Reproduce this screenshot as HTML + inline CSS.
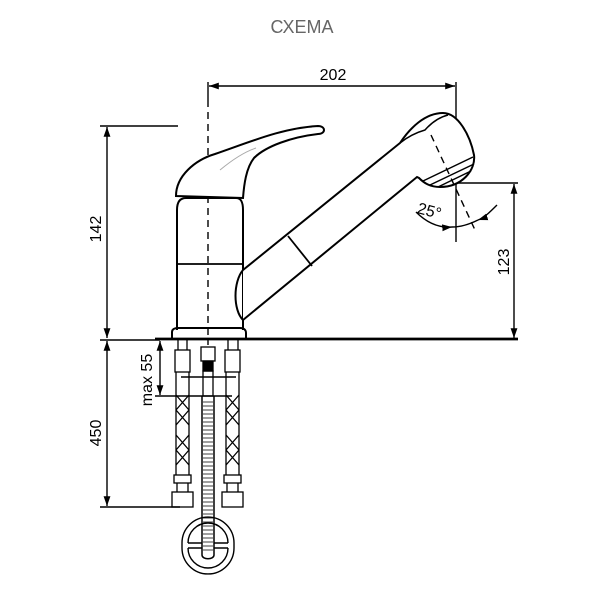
<!DOCTYPE html>
<html><head><meta charset="utf-8"><style>html,body{margin:0;padding:0;background:#fff;}svg{display:block}</style></head>
<body>
<svg width="600" height="600" viewBox="0 0 600 600" xmlns="http://www.w3.org/2000/svg" font-family="Liberation Sans, sans-serif">
<defs>
<marker id="a" viewBox="0 0 10 10" refX="10" refY="5" markerWidth="7" markerHeight="7" orient="auto-start-reverse"><path d="M0,1.5 L10,5 L0,8.5 Z" fill="#000"/></marker>
</defs>
<text x="302" y="33" text-anchor="middle" font-size="18" fill="#666">СХЕМА</text>
<g stroke="#000" fill="none" stroke-width="1.4">
<line x1="209" y1="86" x2="455" y2="86" marker-start="url(#a)" marker-end="url(#a)"/>
<line x1="456" y1="82" x2="456" y2="242"/>
<line x1="208" y1="82" x2="208" y2="100"/>
<line x1="208" y1="100" x2="208" y2="345" stroke-dasharray="7,5"/>
<line x1="100" y1="126" x2="178" y2="126"/>
<line x1="107" y1="127" x2="107" y2="338" marker-start="url(#a)" marker-end="url(#a)"/>
<path d="M176,196 C176,176 195,160 215,154 C250,142 282,128 318,126 C326,126 326,134 318,134 C292,137 266,146 254,158 C246,168 244,185 243,198 Z" fill="#fff" stroke-width="2"/>
<path d="M220,170 C232,160 244,152 256,148" stroke="#aaa" stroke-width="1"/>
<path d="M177,330 L177,210 C177,202 180,198 186,198 L236,198 C241,198 243,202 243,210 L243,330" stroke-width="2"/>
<line x1="177" y1="264" x2="243" y2="264" stroke-width="1.8"/>
<path d="M172,338 L172,332 C172,329 175,328 178,328 L240,328 C244,328 246,330 246,333 L246,338" stroke-width="2"/>
<path d="M243,270 L400,143 C410,128 425,113 443,113 C458,113 470,135 474,155 C476,170 462,187 440,187 C430,187 424,183 419,178 L417,177 L243,320" stroke-width="2" fill="#fff"/>
<path d="M243,270 C233,282 233,310 243,320" stroke-width="2"/>
<line x1="288" y1="236" x2="312" y2="266" stroke-width="1.8"/>
<path d="M400,143 C410,135 418,132 425,130 C432,122 440,117 448,115" stroke-width="1.5"/>
<path d="M423,181 L473,157 M430,185 L474,164 M438,187 L471,171" stroke-width="1.5"/>
<line x1="431" y1="135" x2="475" y2="230" stroke-dasharray="7,5"/>
<path d="M416,212 C428,224 440,228 452,227" marker-end="url(#a)"/>
<path d="M497,205 C490,212 484,218 478,220" marker-end="url(#a)"/>
<path d="M452,227 C462,227 470,224 478,220"/>
<line x1="457" y1="183" x2="518" y2="183"/>
<line x1="514" y1="184" x2="514" y2="338" marker-start="url(#a)" marker-end="url(#a)"/>
<line x1="155" y1="339" x2="518" y2="339" stroke-width="2.8"/>
<line x1="100" y1="340" x2="160" y2="340"/>
<line x1="107" y1="341" x2="107" y2="506" marker-start="url(#a)" marker-end="url(#a)"/>
<line x1="100" y1="507" x2="180" y2="507"/>
<line x1="160" y1="341" x2="160" y2="395" marker-start="url(#a)" marker-end="url(#a)"/>
<line x1="155" y1="396" x2="232" y2="396"/>
<line x1="181" y1="377" x2="236" y2="377"/>
<g stroke-width="1.3">
<path d="M178,340 V350 M187,340 V350 M228,340 V350 M238,340 V350"/>
<rect x="175" y="350" width="15" height="22"/>
<rect x="225" y="350" width="15" height="22"/>
<path d="M176,372 V475 M189,372 V475 M226,372 V475 M239,372 V475"/>
<path d="M176,395 L189,410 M189,395 L176,410 M176,410 L189,425 M189,410 L176,425 M176,435 L189,450 M189,435 L176,450 M176,450 L189,465 M189,450 L176,465"/>
<path d="M226,395 L239,410 M239,395 L226,410 M226,410 L239,425 M239,410 L226,425 M226,435 L239,450 M239,435 L226,450 M226,450 L239,465 M239,450 L226,465"/>
<rect x="174" y="475" width="17" height="8"/><rect x="224" y="475" width="17" height="8"/>
<path d="M177,483 V492 M188,483 V492 M227,483 V492 M238,483 V492"/>
<rect x="172" y="492" width="21" height="15"/><rect x="222" y="492" width="21" height="15"/>
<rect x="201" y="347" width="14" height="14"/>
<rect x="203" y="361" width="10" height="10" fill="#000"/>
<rect x="203" y="371" width="10" height="25"/>
<path d="M202,396 V555 C202,560 214,560 214,555 V396" stroke-width="1.5"/>
</g>
<path d="M203,402 H213 M203,406 H213 M203,410 H213 M203,414 H213 M203,418 H213 M203,422 H213 M203,426 H213 M203,430 H213 M203,434 H213 M203,438 H213 M203,442 H213 M203,446 H213 M203,450 H213 M203,454 H213 M203,458 H213 M203,462 H213 M203,466 H213 M203,470 H213 M203,474 H213 M203,478 H213 M203,482 H213 M203,486 H213 M203,490 H213 M203,494 H213 M203,498 H213 M203,502 H213 M203,506 H213 M203,510 H213 M203,514 H213 M203,518 H213 M203,522 H213 M203,526 H213 M203,530 H213 M203,534 H213 M203,538 H213 M203,542 H213 M203,546 H213 M203,550 H213" stroke-width="0.8"/>
<path d="M182,543 A26,26 0 0 1 234,543 M188,543 A20,20 0 0 1 228,543" stroke-width="1.4"/>
<path d="M182,548 A26,26 0 0 0 234,548 M188,548 A20,20 0 0 0 228,548 M182,543 V548 M234,543 V548 M188,543 H202 M214,543 H228 M188,548 H202 M214,548 H228" stroke-width="1.4"/>
</g>
<g font-size="16" fill="#000">
<text x="333" y="80" text-anchor="middle">202</text>
<text transform="translate(101,229) rotate(-90)" text-anchor="middle">142</text>
<text transform="translate(509,262) rotate(-90)" text-anchor="middle">123</text>
<text transform="translate(101,433) rotate(-90)" text-anchor="middle">450</text>
<text transform="translate(152,380) rotate(-90)" text-anchor="middle">max 55</text>
<text transform="translate(428,216) rotate(15)" text-anchor="middle">25°</text>
</g>
</svg>
</body></html>
